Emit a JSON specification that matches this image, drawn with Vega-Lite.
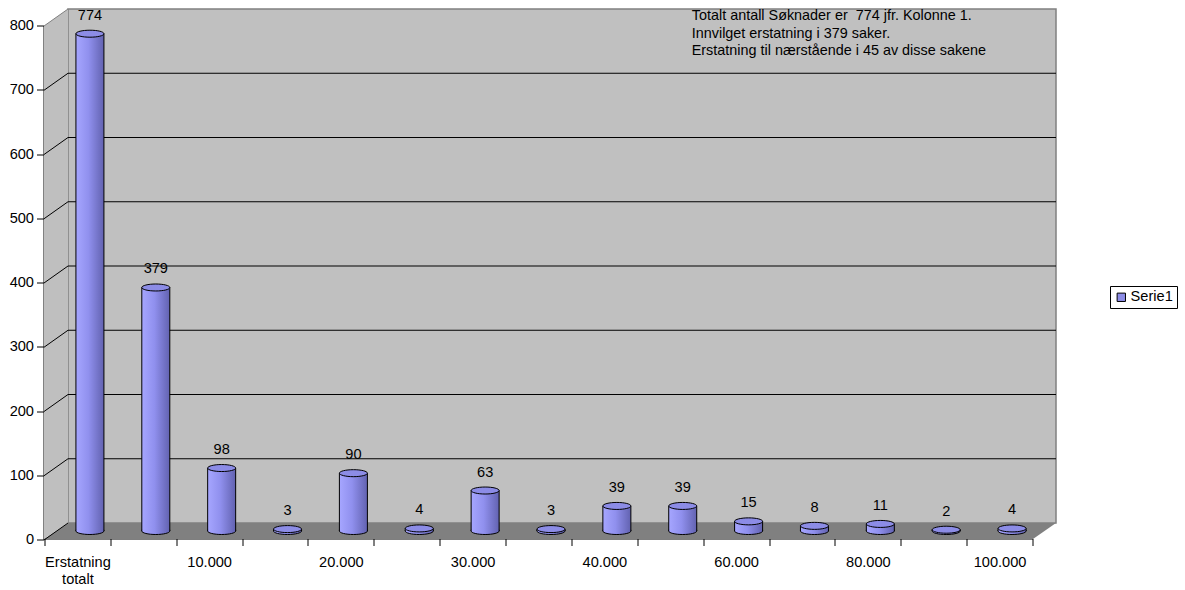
{
  "$schema": "https://vega.github.io/schema/vega-lite/v6.json",
  "width": 988,
  "height": 514,
  "autosize": {"type": "none"},
  "padding": {"left": 68, "top": 9, "right": 129, "bottom": 67},
  "background": "white",
  "config": {
    "font": "Liberation Sans",
    "view": {"fill": "#C0C0C0", "stroke": "#808080", "strokeWidth": 1.5},
    "axis": {
      "title": null,
      "domainColor": "#000000",
      "tickColor": "#000000",
      "labelColor": "#000000",
      "labelFont": "Liberation Sans",
      "labelFontSize": 14.6,
      "tickSize": 7,
      "grid": false,
      "zindex": 1
    }
  },
  "datasets": {
    "soknader": [
      {"kategori": "Erstatning totalt", "antall": 774},
      {"kategori": "Innvilget", "antall": 379},
      {"kategori": "10.000", "antall": 98},
      {"kategori": "15.000", "antall": 3},
      {"kategori": "20.000", "antall": 90},
      {"kategori": "25.000", "antall": 4},
      {"kategori": "30.000", "antall": 63},
      {"kategori": "35.000", "antall": 3},
      {"kategori": "40.000", "antall": 39},
      {"kategori": "50.000", "antall": 39},
      {"kategori": "60.000", "antall": 15},
      {"kategori": "70.000", "antall": 8},
      {"kategori": "80.000", "antall": 11},
      {"kategori": "90.000", "antall": 2},
      {"kategori": "100.000", "antall": 4}
    ],
    "rutenett": [
      {"verdi": 0}, {"verdi": 100}, {"verdi": 200}, {"verdi": 300}, {"verdi": 400},
      {"verdi": 500}, {"verdi": 600}, {"verdi": 700}, {"verdi": 800}
    ],
    "merknad": [
      {"tekst": ["Totalt antall Søknader er\u00a0 774 jfr. Kolonne 1.", "Innvilget erstatning i 379 saker.", "Erstatning til nærstående i 45 av disse sakene"]}
    ]
  },
  "layer": [
    {
      "data": {"name": "merknad"},
      "mark": {
        "type": "point",
        "filled": true,
        "fill": "#808080",
        "opacity": 1,
        "strokeWidth": 0,
        "shape": "M-1,0.01581 L0.9545,0.01581 L1,-0.01581 L-0.9526,-0.01581 Z",
        "size": 1024144,
        "xOffset": -12,
        "yOffset": 8
      },
      "encoding": {
        "x": {"datum": "35.000", "type": "nominal"},
        "y": {"datum": 0, "type": "quantitative"}
      }
    },
    {
      "data": {"name": "rutenett"},
      "transform": [{"filter": "datum.verdi == 0"}],
      "mark": {
        "type": "point",
        "filled": true,
        "fill": "#BFBFBF",
        "fillOpacity": 1,
        "opacity": 1,
        "strokeWidth": 0,
        "shape": "M-0.0453,-0.9358 L0.0453,-1 L0.0453,0.9396 L-0.0453,1 Z",
        "size": 280900,
        "xOffset": -506,
        "yOffset": -249
      },
      "encoding": {
        "x": {"datum": "35.000", "type": "nominal"},
        "y": {"field": "verdi", "type": "quantitative"}
      }
    },
    {
      "data": {"name": "rutenett"},
      "transform": [{"filter": "datum.verdi > 0 && datum.verdi < 800"}],
      "mark": {"type": "rule", "color": "#000000", "strokeWidth": 1},
      "encoding": {
        "y": {"field": "verdi", "type": "quantitative"}
      }
    },
    {
      "data": {"name": "rutenett"},
      "mark": {"type": "rule", "strokeWidth": 1, "xOffset": -32.93, "x2Offset": -56.93, "y2Offset": 17},
      "encoding": {
        "x": {"datum": "Erstatning totalt", "type": "nominal"},
        "x2": {"datum": "Erstatning totalt"},
        "y": {"field": "verdi", "type": "quantitative"},
        "y2": {"field": "verdi"},
        "color": {"condition": {"test": "datum.verdi == 800", "value": "#808080"}, "value": "#000000"}
      }
    },
    {
      "data": {"name": "soknader"},
      "mark": {
        "type": "bar",
        "width": 28,
        "stroke": "#000000",
        "strokeWidth": 1,
        "xOffset": -11,
        "x2Offset": -11,
        "yOffset": 8,
        "y2Offset": 8,
        "fill": {
          "gradient": "linear", "x1": 0, "y1": 0, "x2": 1, "y2": 0,
          "stops": [
            {"offset": 0, "color": "#A6A6FF"},
            {"offset": 0.45, "color": "#9090EE"},
            {"offset": 1, "color": "#6262B0"}
          ]
        }
      },
      "encoding": {
        "x": {
          "field": "kategori",
          "type": "nominal",
          "sort": null,
          "scale": {
            "domain": ["Erstatning totalt", "Innvilget", "10.000", "15.000", "20.000", "25.000", "30.000", "35.000", "40.000", "50.000", "60.000", "70.000", "80.000", "90.000", "100.000"],
            "paddingInner": 0,
            "paddingOuter": 0
          },
          "axis": {
            "orient": "bottom",
            "translate": -23,
            "offset": 39,
            "tickBand": "extent",
            "labelAngle": 0,
            "labelAlign": "center",
            "labelBaseline": "top",
            "labelOverlap": false,
            "labelPadding": 9,
            "labelLineHeight": 17,
            "labelExpr": "datum.value == 'Erstatning totalt' ? ['Erstatning', 'totalt'] : (indexof(['10.000','20.000','30.000','40.000','60.000','80.000','100.000'], datum.value) >= 0 ? datum.value : '')"
          }
        },
        "y": {
          "field": "antall",
          "type": "quantitative",
          "stack": null,
          "scale": {"domain": [0, 800], "nice": false},
          "axis": {
            "orient": "left",
            "values": [0, 100, 200, 300, 400, 500, 600, 700, 800],
            "translate": 17,
            "offset": 41,
            "labelPadding": 3
          }
        },
        "y2": {"datum": 0}
      }
    },
    {
      "data": {"name": "soknader"},
      "mark": {
        "type": "point",
        "filled": true,
        "opacity": 1,
        "stroke": "#000000",
        "strokeWidth": 1,
        "strokeOpacity": 1,
        "shape": "M-1,-0.08 L-1,0 C-1,0.138 -0.552,0.25 0,0.25 C0.552,0.25 1,0.138 1,0 L1,-0.08",
        "size": 784,
        "xOffset": -11,
        "yOffset": 8,
        "fill": {
          "gradient": "linear", "x1": 0, "y1": 0, "x2": 1, "y2": 0,
          "stops": [
            {"offset": 0, "color": "#A6A6FF"},
            {"offset": 0.45, "color": "#9090EE"},
            {"offset": 1, "color": "#6262B0"}
          ]
        }
      },
      "encoding": {
        "x": {"field": "kategori", "type": "nominal", "sort": null},
        "y": {"datum": 0, "type": "quantitative"}
      }
    },
    {
      "data": {"name": "soknader"},
      "mark": {
        "type": "point",
        "filled": true,
        "fill": "#8C8CE6",
        "opacity": 1,
        "strokeWidth": 1,
        "strokeOpacity": 1,
        "shape": "M-1,0 C-1,-0.138 -0.552,-0.25 0,-0.25 C0.552,-0.25 1,-0.138 1,0 C1,0.138 0.552,0.25 0,0.25 C-0.552,0.25 -1,0.138 -1,0 Z",
        "size": 784,
        "xOffset": -11,
        "yOffset": 8
      },
      "encoding": {
        "x": {"field": "kategori", "type": "nominal", "sort": null},
        "y": {"field": "antall", "type": "quantitative"},
        "stroke": {
          "datum": "Serie1",
          "type": "nominal",
          "scale": {"range": ["#000000"]},
          "legend": {
            "title": null,
            "orient": "none",
            "legendX": 1042,
            "legendY": 277,
            "padding": 4,
            "strokeColor": "#000000",
            "fillColor": "#FFFFFF",
            "symbolType": "square",
            "symbolSize": 70,
            "symbolStrokeWidth": 1,
            "labelFontSize": 14.6,
            "labelColor": "#000000",
            "labelOffset": 2,
            "encode": {
              "symbols": {
                "update": {
                  "fill": {"value": "#9999FF"},
                  "fillOpacity": {"value": 1},
                  "stroke": {"value": "#000000"},
                  "shape": {"value": "square"}
                }
              }
            }
          }
        }
      }
    },
    {
      "data": {"name": "soknader"},
      "mark": {"type": "text", "fontSize": 14.6, "color": "#000000", "baseline": "middle", "align": "center", "xOffset": -11, "yOffset": -10},
      "encoding": {
        "x": {"field": "kategori", "type": "nominal", "sort": null},
        "y": {"field": "antall", "type": "quantitative"},
        "text": {"field": "antall", "type": "quantitative"}
      }
    },
    {
      "data": {"name": "merknad"},
      "mark": {"type": "text", "fontSize": 14.4, "color": "#000000", "align": "left", "baseline": "top", "lineHeight": 17.5, "xOffset": -2},
      "encoding": {
        "x": {"datum": "50.000", "type": "nominal"},
        "y": {"datum": 800, "type": "quantitative"},
        "text": {"field": "tekst"}
      }
    }
  ]
}
